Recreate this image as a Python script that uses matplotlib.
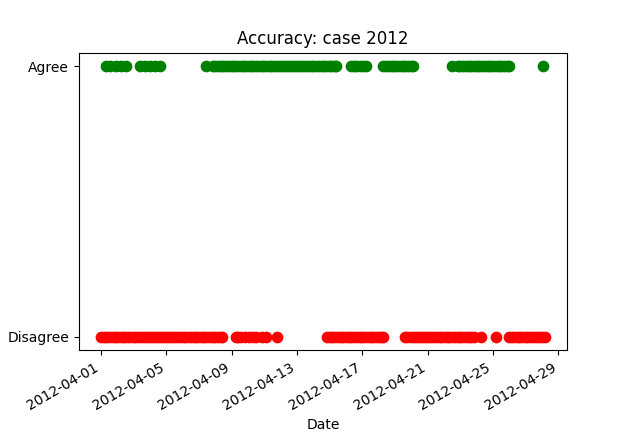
import matplotlib
matplotlib.use("Agg")
import matplotlib.pyplot as plt
import matplotlib.dates as mdates
import pandas as pd

# Timestamps (month-day hour) in 2012
agree_times = [
    "04-01 07", "04-01 14", "04-01 22", "04-02 06", "04-02 13",
    "04-03 10", "04-03 17", "04-04 00", "04-04 08", "04-04 15",
    "04-07 10", "04-07 20",
    "04-08 00", "04-08 04", "04-08 08", "04-08 12", "04-08 16", "04-08 20",
    "04-09 00", "04-09 04", "04-09 08", "04-09 12", "04-09 16", "04-09 20",
    "04-10 00", "04-10 04", "04-10 08", "04-10 12", "04-10 16", "04-10 20",
    "04-11 00", "04-11 04", "04-11 08", "04-11 12", "04-11 16", "04-11 20",
    "04-12 00", "04-12 04", "04-12 08", "04-12 12", "04-12 16", "04-12 20",
    "04-13 00", "04-13 04", "04-13 08", "04-13 12", "04-13 16", "04-13 20",
    "04-14 00", "04-14 04", "04-14 08", "04-14 12", "04-14 16", "04-14 20",
    "04-15 00", "04-15 04", "04-15 08", "04-15 10",
    "04-16 07", "04-16 11", "04-16 14", "04-16 20", "04-17 01", "04-17 06",
    "04-18 07", "04-18 11", "04-18 15", "04-18 19", "04-18 23",
    "04-19 03", "04-19 07", "04-19 11", "04-19 15", "04-19 19", "04-19 23",
    "04-20 03",
    "04-22 11", "04-22 21",
    "04-23 00", "04-23 04", "04-23 08", "04-23 12", "04-23 16", "04-23 20",
    "04-24 00", "04-24 04", "04-24 08", "04-24 12", "04-24 16", "04-24 20",
    "04-25 00", "04-25 04", "04-25 08", "04-25 12", "04-25 16", "04-25 20",
    "04-26 00",
    "04-28 01",
]

disagree_times = [
    "04-01 00", "04-01 04", "04-01 08", "04-01 12", "04-01 16", "04-01 20",
    "04-02 00", "04-02 04", "04-02 08", "04-02 12", "04-02 16", "04-02 20",
    "04-03 00", "04-03 04", "04-03 08", "04-03 12", "04-03 16", "04-03 20",
    "04-04 00", "04-04 04", "04-04 08", "04-04 12", "04-04 16", "04-04 20",
    "04-05 00", "04-05 04", "04-05 08", "04-05 12", "04-05 16", "04-05 20",
    "04-06 00", "04-06 04", "04-06 08", "04-06 12", "04-06 16", "04-06 20",
    "04-07 00", "04-07 04", "04-07 08", "04-07 12", "04-07 16", "04-07 20",
    "04-08 00", "04-08 04", "04-08 08", "04-08 10",
    "04-09 06", "04-09 10", "04-09 14", "04-09 20", "04-10 02", "04-10 08",
    "04-10 12", "04-10 20", "04-11 03", "04-11 19",
    "04-14 20",
    "04-15 00", "04-15 04", "04-15 08", "04-15 12", "04-15 16", "04-15 20",
    "04-16 00", "04-16 04", "04-16 08", "04-16 12", "04-16 16", "04-16 20",
    "04-17 00", "04-17 04", "04-17 08", "04-17 12", "04-17 16", "04-17 20",
    "04-18 00", "04-18 04", "04-18 06",
    "04-19 14", "04-19 18",
    "04-20 00", "04-20 04", "04-20 08", "04-20 12", "04-20 16", "04-20 20",
    "04-21 00", "04-21 04", "04-21 08", "04-21 12", "04-21 16", "04-21 20",
    "04-22 00", "04-22 04", "04-22 08", "04-22 12", "04-22 16", "04-22 20",
    "04-23 00", "04-23 04", "04-23 08", "04-23 12", "04-23 16", "04-23 20",
    "04-24 07",
    "04-25 05",
    "04-26 00", "04-26 04", "04-26 08", "04-26 12", "04-26 16", "04-26 20",
    "04-27 00", "04-27 04", "04-27 08", "04-27 12", "04-27 16", "04-27 20",
    "04-28 00", "04-28 04",
]

category_labels = ["Disagree", "Agree"]


def to_dt(items):
    return pd.to_datetime(["2012-" + s + ":00" for s in items])


agree_dt = to_dt(agree_times)
disagree_dt = to_dt(disagree_times)

fig, ax = plt.subplots(figsize=(6.3, 4.38), dpi=100)
ax.scatter(disagree_dt, [0] * len(disagree_dt), color="red", s=55)
ax.scatter(agree_dt, [1] * len(agree_dt), color="green", s=55)

ax.set_yticks([0, 1])
ax.set_yticklabels(category_labels)
ax.xaxis.set_major_locator(mdates.DayLocator(bymonthday=[1, 5, 9, 13, 17, 21, 25, 29]))
ax.xaxis.set_major_formatter(mdates.DateFormatter("%Y-%m-%d"))
ax.set_title("Accuracy: case 2012")
ax.set_xlabel("Date")
fig.autofmt_xdate()
fig.savefig("out.png", dpi=100)
